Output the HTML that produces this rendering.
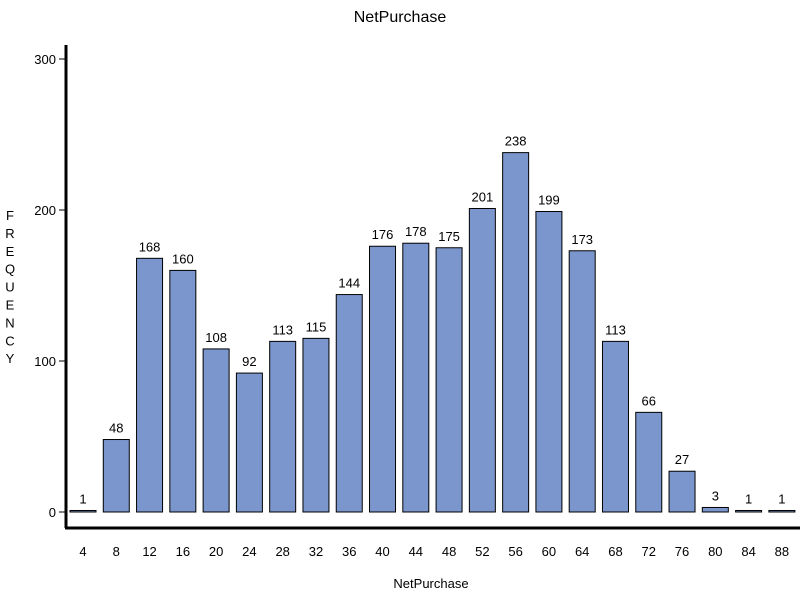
<!DOCTYPE html>
<html><head><meta charset="utf-8"><style>
body{margin:0;background:#fff;}
svg text{font-family:"Liberation Sans",Arial,sans-serif;fill:#000;}
</style></head><body>
<svg id="chart" width="800" height="600">
<text x="400" y="22" font-size="16" text-anchor="middle">NetPurchase</text>
<text x="431" y="588" font-size="13" text-anchor="middle">NetPurchase</text>
<g id="ytitle"></g>
<g id="bars"></g>
<g id="yaxis"></g>
<g id="xaxis"></g>
<line x1="66" y1="45" x2="66" y2="528" stroke="#000" stroke-width="3"/>
<line x1="65" y1="528" x2="800" y2="528" stroke="#000" stroke-width="3"/>
</svg>
<script>
const categories=[4,8,12,16,20,24,28,32,36,40,44,48,52,56,60,64,68,72,76,80,84,88];
const counts=[1,48,168,160,108,92,113,115,144,176,178,175,201,238,199,173,113,66,27,3,1,1];
const yTicks=[0,100,200,300];
const NS="http://www.w3.org/2000/svg";
const y=v=>512-v*1.51;
const x=i=>83+i*33.28;
function mk(t,a,p){const e=document.createElementNS(NS,t);for(const k in a)e.setAttribute(k,a[k]);p.appendChild(e);return e;}
const bars=document.getElementById('bars'),ya=document.getElementById('yaxis'),xa=document.getElementById('xaxis'),yt=document.getElementById('ytitle');
counts.forEach((c,i)=>{
 const r=mk('rect',{x:x(i)-13,y:y(c),width:26,height:Math.max(0.5,c*1.51),fill:'#7b96cc',stroke:'#000','stroke-width':1},bars);
 
 
 const t=mk('text',{x:x(i),y:y(c)-7,'font-size':13,'text-anchor':'middle'},bars);t.textContent=c;
 
 
 const l=mk('text',{x:x(i),y:556,'font-size':13,'text-anchor':'middle'},xa);l.textContent=categories[i];
 
 
});
yTicks.forEach(v=>{
 const tk=mk('line',{x1:59,x2:65,y1:y(v),y2:y(v),stroke:'#000'},ya);
 
 
 const t=mk('text',{x:56,y:y(v)+5,'font-size':13,'text-anchor':'end'},ya);t.textContent=v;
 
 
});
"FREQUENCY".split('').forEach((ch,i)=>{
 const t=mk('text',{x:10,y:220+i*17.9,'font-size':13,'text-anchor':'middle'},yt);t.textContent=ch;
});
</script>
</body></html>
